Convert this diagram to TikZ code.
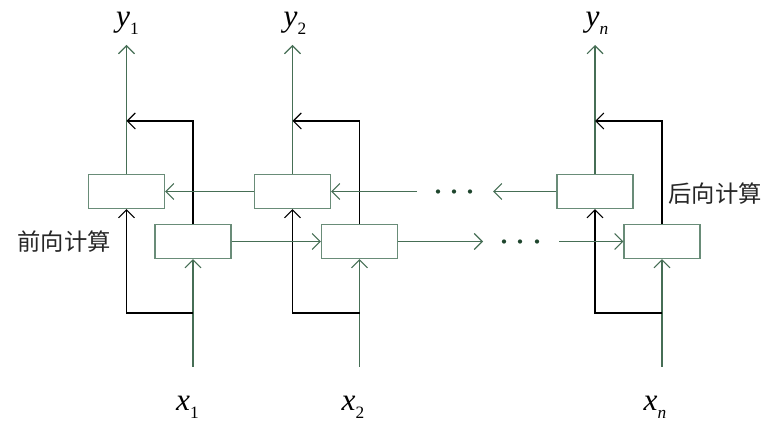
\documentclass[tikz,border=0pt]{standalone}
\usepackage{fontspec}
\setmainfont{Liberation Serif}
\newfontfamily\cjk{Noto Sans CJK SC}
\usetikzlibrary{arrows.meta}
\definecolor{linegreen}{RGB}{70,110,85}
\definecolor{boxgreen}{RGB}{105,140,120}
\definecolor{dotgreen}{RGB}{30,70,45}
\tikzstyle{cell} = [rectangle, draw=boxgreen, line width=0.9pt,
                    minimum width=57pt, minimum height=25.5pt, inner sep=0pt]
\tikzstyle{tip} = [-{Straight Barb[length=6pt,width=12pt]}]
\tikzstyle{arrow} = [linegreen, line width=0.8pt, tip]
\tikzstyle{back} = [black, line width=0.8pt]
\tikzstyle{varlabel} = [font=\fontsize{23.5pt}{25pt}\selectfont, inner sep=0pt, anchor=base]
\tikzstyle{phase} = [font=\cjk\fontsize{17.5pt}{19pt}\selectfont, inner sep=0pt, text=black!85]
\newcommand{\varsub}[2]{\textit{#1}\raisebox{-5.5pt}{\fontsize{13pt}{13pt}\selectfont #2}}

\begin{document}
\begin{tikzpicture}[x=0.75pt, y=-0.75pt]
        \useasboundingbox (0,0) rectangle (776,431);

        %Backward cells
        \node (b1) [cell] at (126.5,191.5) {};
        \node (b2) [cell] at (292.5,191.5) {};
        \node (bn) [cell] at (595,191.5) {};

        %Forward cells
        \node (f1) [cell] at (193,241.5) {};
        \node (f2) [cell] at (359.5,241.5) {};
        \node (fn) [cell] at (662,241.5) {};

        %Labels
        \node (y1) [varlabel] at (127.5,27) {\varsub{y}{1}};
        \node (y2) [varlabel] at (295,27) {\varsub{y}{2}};
        \node (yn) [varlabel] at (597,27) {\varsub{y}{\textit{n}}};
        \node (x1) [varlabel] at (187.5,411) {\varsub{x}{1}};
        \node (x2) [varlabel] at (353,411) {\varsub{x}{2}};
        \node (xn) [varlabel] at (655,411) {\varsub{x}{\textit{n}}};
        \node (fwd) [phase] at (64,242) {前向计算};
        \node (bwd) [phase] at (715,194) {后向计算};

        %Output and input ends
        \coordinate (o1) at (126.5,45);
        \coordinate (o2) at (292.5,45);
        \coordinate (on) at (595,45);
        \coordinate (i1) at (193,367);
        \coordinate (i2) at (359.5,367);
        \coordinate (in) at (662,367);

        %Column 1
        \draw [arrow] (i1) -- (f1.south);
        \draw [back, tip] (193,313) -| (b1.south);
        \draw [arrow] (b1.north) -- (o1);
        \draw [back, tip] (f1.north) |- (126.5,121);

        %Column 2
        \draw [arrow] (i2) -- (f2.south);
        \draw [back, tip] (359.5,313) -| (b2.south);
        \draw [arrow] (b2.north) -- (o2);
        \draw [back, tip] (f2.north) |- (292.5,121);

        %Column n
        \draw [arrow] (in) -- (fn.south);
        \draw [back, tip] (662,313) -| (bn.south);
        \draw [arrow] (bn.north) -- (on);
        \draw [back, tip] (fn.north) |- (595,121);

        %Backward chain
        \draw [arrow] (b2.west) -- (b1.east);
        \coordinate (bgap1) at (417,191.5);
        \coordinate (bgap2) at (493,191.5);
        \draw [arrow] (bgap1) -- (b2.east);
        \draw [arrow] (bn.west) -- (bgap2);
        \fill [dotgreen] (438,191.5) circle (1.6pt);
        \fill [dotgreen] (454,191.5) circle (1.6pt);
        \fill [dotgreen] (470,191.5) circle (1.6pt);

        %Forward chain
        \draw [arrow] (f1.east) -- (f2.west);
        \coordinate (fgap1) at (483,241.5);
        \coordinate (fgap2) at (559,241.5);
        \draw [arrow] (f2.east) -- (fgap1);
        \draw [arrow] (fgap2) -- (fn.west);
        \fill [dotgreen] (504,241.5) circle (1.6pt);
        \fill [dotgreen] (520,241.5) circle (1.6pt);
        \fill [dotgreen] (537,241.5) circle (1.6pt);

\end{tikzpicture}
\end{document}
